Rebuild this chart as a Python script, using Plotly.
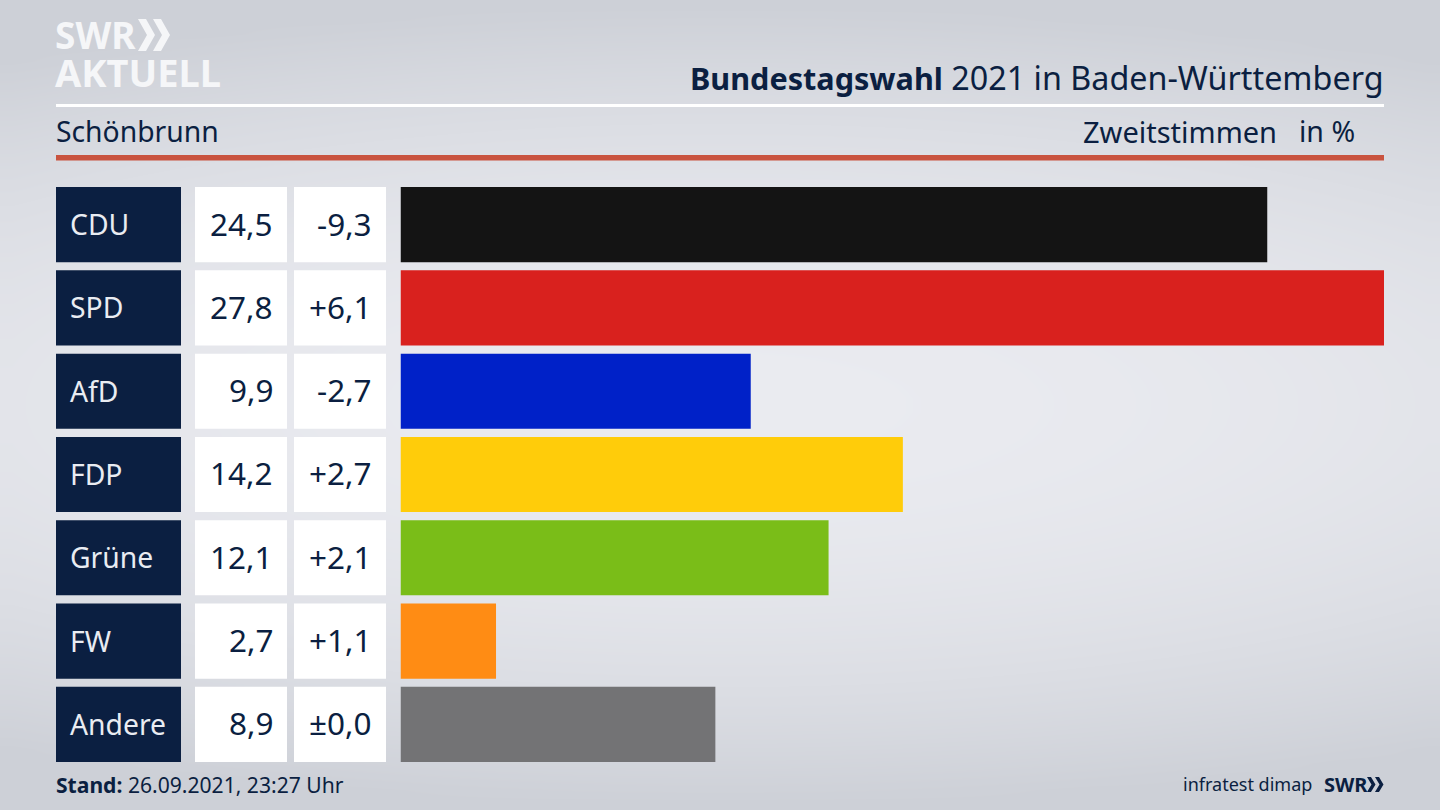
import numpy as np
import plotly.graph_objects as go

W, H = 1440, 810
FONT = "Noto Sans"
NAVY = "#0b1f41"
LOGO = "#f5f6f8"

parties = ["CDU", "SPD", "AfD", "FDP", "Grüne", "FW", "Andere"]
shares = [24.5, 27.8, 9.9, 14.2, 12.1, 2.7, 8.9]
changes = ["-9,3", "+6,1", "-2,7", "+2,7", "+2,1", "+1,1", "±0,0"]
colors = ["#141414", "#d9211e", "#0021c8", "#ffcc0a", "#7abd18", "#ff8c14", "#737375"]


def px(x):
    return x / W


def py(y):
    return 1 - y / H


def label(x, y, text, size, color=NAVY, anchor="left", yref="paper", yshift=0):
    fig.add_annotation(
        x=px(x), y=y, xref="paper", yref=yref, text=text, showarrow=False,
        xanchor=anchor, yanchor="middle", align=anchor, yshift=yshift,
        font={"family": FONT, "size": size, "color": color},
        borderpad=0, borderwidth=0,
    )


fig = go.Figure()

# grey backdrop, brighter in the middle (sits on the first axes so the bars draw over it)
gx = np.linspace(-1, 1, 60)
gy = np.linspace(-1, 1, 60)
backdrop = [[1 - min(1, (0.25 * a**2 + b**2)) for a in gx] for b in gy]
fig.add_trace(
    go.Heatmap(
        z=backdrop, x=gx, y=gy, zsmooth="best",
        colorscale=[[0, "#cdd0d7"], [1, "#eaebf0"]], showscale=False, hoverinfo="skip",
    )
)

fig.add_trace(
    go.Bar(
        x=shares, y=parties, xaxis="x2", yaxis="y2", orientation="h",
        marker={"color": colors, "line": {"width": 0}}, hoverinfo="x+y",
    )
)

# table cells next to the bars
for i, party in enumerate(parties):
    for x0, x1, fill in [(56, 181, NAVY), (195, 287, "white"), (294, 386, "white")]:
        fig.add_shape(
            type="rect", xref="paper", yref="y2", x0=px(x0), x1=px(x1), y0=i - 0.451, y1=i + 0.451,
            fillcolor=fill, line={"width": 0}, layer="above",
        )
    label(70, party, party, 28.3, "#e9ecf2", yref="y2", yshift=0.5)
    label(272.5, party, f"{shares[i]:.1f}".replace(".", ","), 31.5, anchor="right", yref="y2", yshift=1.5)
    label(372, party, changes[i], 31.5, anchor="right", yref="y2", yshift=1.5)

# header rules
fig.add_shape(type="rect", xref="paper", yref="paper", x0=px(56), x1=px(1384), y0=py(107), y1=py(104),
              fillcolor="white", line={"width": 0})
fig.add_shape(type="rect", xref="paper", yref="paper", x0=px(56), x1=px(1384), y0=py(160.5), y1=py(155),
              fillcolor="#c9533f", line={"width": 0})

# SWR chevrons
for x0, w, t, col, top, bottom in [(138, 9, 8, LOGO, 19, 51), (153, 9, 8, LOGO, 19, 51),
                                   (1367, 4.5, 4, NAVY, 777, 792), (1375, 4.5, 4, NAVY, 777, 792)]:
    mid = (top + bottom) / 2
    xs = [x0, x0 + t, x0 + t + w, x0 + t, x0, x0 + w]
    ys = [top, top, mid, bottom, bottom, mid]
    path = "M " + " L ".join(f"{px(a):.5f},{py(b):.5f}" for a, b in zip(xs, ys)) + " Z"
    fig.add_shape(type="path", xref="paper", yref="paper", path=path, fillcolor=col, line={"width": 0})

label(55, py(35), "<b>SWR</b>", 37, LOGO)
label(55, py(72), "<b>AKTUELL</b>", 38, LOGO)
label(1384, py(77), '<span style="font-size:30.6px"><b>Bundestagswahl</b></span> 2021 in Baden-Württemberg',
      32.3, anchor="right")
label(56, py(131), "Schönbrunn", 28.3)
label(1277, py(131), "Zweitstimmen", 29, anchor="right")
label(1355, py(131), "in %", 28.5, anchor="right")
label(56, py(784), "<b>Stand:</b> 26.09.2021, 23:27 Uhr", 21.1)
label(1312, py(784), "infratest dimap", 18, anchor="right")
label(1324, py(784), "<b>SWR</b>", 20)

fig.update_layout(
    width=W, height=H, margin={"l": 0, "r": 0, "t": 0, "b": 0}, showlegend=False,
    paper_bgcolor="#dfe1e6", plot_bgcolor="rgba(0,0,0,0)",
    bargap=0.098,
    xaxis={"domain": [0, 1], "visible": False, "fixedrange": True},
    yaxis={"domain": [0, 1], "visible": False, "fixedrange": True},
    xaxis2={"domain": [px(400.5), px(1384)], "range": [0, 27.8], "visible": False, "anchor": "y2",
            "fixedrange": True},
    yaxis2={"domain": [py(766), py(183)], "autorange": "reversed", "visible": False, "anchor": "x2",
            "fixedrange": True, "categoryorder": "array", "categoryarray": parties},
)

fig.write_html("out.html", config={"displayModeBar": False},
               post_script="document.body.style.margin='0';")
